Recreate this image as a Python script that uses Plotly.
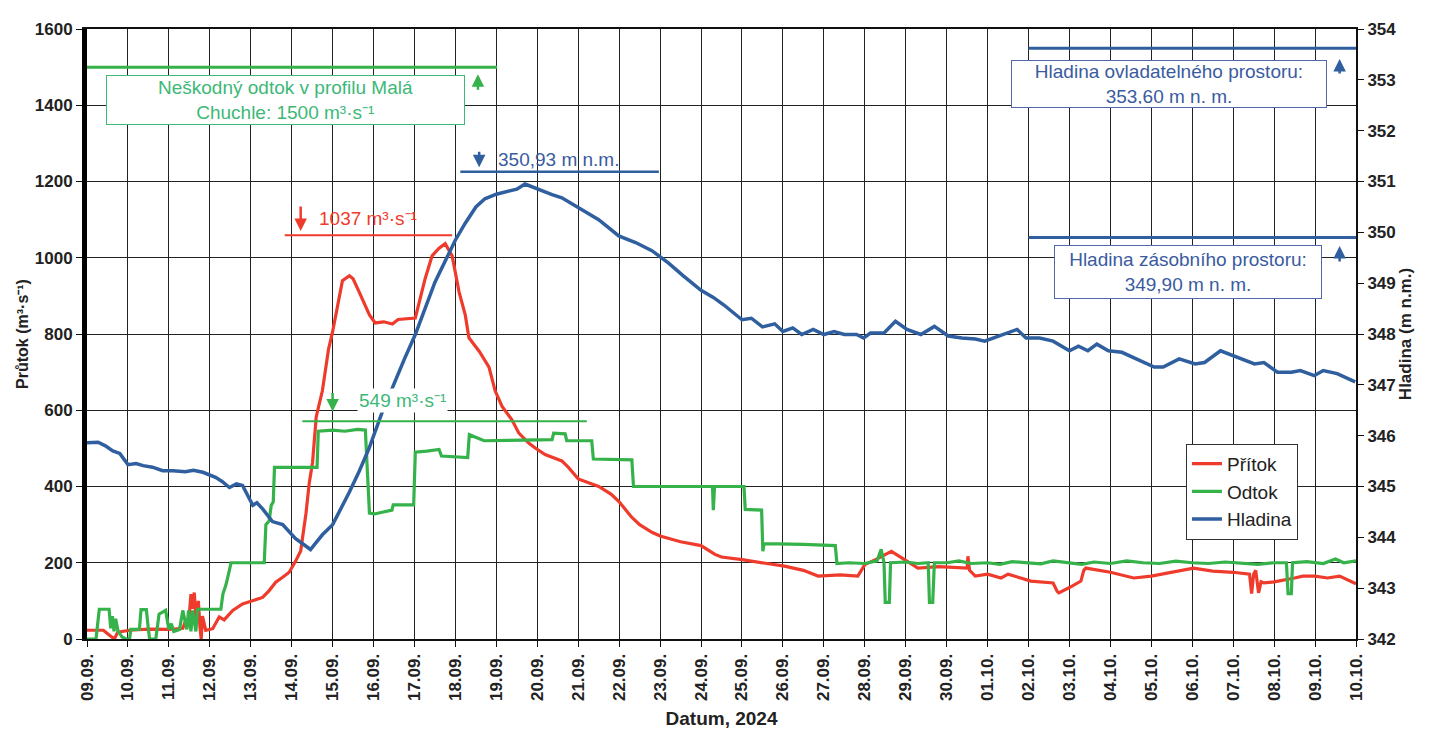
import plotly.graph_objects as go

# ---- data (x = days after 09.09.2024) ----
tick_labels = ["09.09.", "10.09.", "11.09.", "12.09.", "13.09.", "14.09.", "15.09.", "16.09.",
               "17.09.", "18.09.", "19.09.", "20.09.", "21.09.", "22.09.", "23.09.", "24.09.",
               "25.09.", "26.09.", "27.09.", "28.09.", "29.09.", "30.09.", "01.10.", "02.10.",
               "03.10.", "04.10.", "05.10.", "06.10.", "07.10.", "08.10.", "09.10.", "10.10."]

pritok_x = [0, 0.4, 0.55, 0.67, 0.75, 1.04, 1.5, 2.0, 2.34, 2.4, 2.48, 2.54, 2.58, 2.62, 2.66, 2.72,
            2.76, 2.79, 2.82, 2.9, 3.07, 3.23, 3.35, 3.56, 3.8, 4.05, 4.29, 4.45, 4.61, 4.78, 4.94,
            5.1, 5.22, 5.35, 5.43, 5.51, 5.6, 5.75, 5.9, 6.0, 6.12, 6.24, 6.41, 6.5, 6.65, 6.9, 7.04,
            7.25, 7.46, 7.6, 8.02, 8.15, 8.26, 8.43, 8.6, 8.75, 8.92, 9.09, 9.24, 9.33, 9.58, 9.82,
            9.97, 10.14, 10.38, 10.55, 10.79, 10.95, 11.19, 11.6, 11.76, 12.0, 12.5, 12.8, 13.0,
            13.3, 13.5, 13.8, 14.0, 14.5, 15.0, 15.34, 15.5, 16.0, 16.5, 17.04, 17.5, 17.86, 18.4,
            18.83, 19.0, 19.3, 19.65, 20.0, 20.3, 20.8, 21.5, 21.52, 21.56, 21.7, 22.0, 22.33, 22.5,
            23.06, 23.6, 23.7, 23.74, 24.0, 24.28, 24.35, 24.4, 25.0, 25.57, 26.0, 26.5, 27.03,
            27.5, 28.0, 28.4, 28.45, 28.5, 28.55, 28.62, 28.68, 28.75, 29.0, 29.5, 29.7, 30.0,
            30.3, 30.6, 31.0]
pritok_y = [23, 23, 10, 0, 18, 23, 26, 25, 28, 45, 40, 118, 79, 122, 58, 100,
            30, 0, 60, 23, 27, 58, 50, 75, 92, 101, 109, 127, 149, 162, 175,
            205, 231, 330, 410, 463, 583, 651, 760, 806, 870, 940, 953, 945, 910, 850, 829,
            832, 826, 838, 842, 900, 945, 1005, 1025, 1037, 1005, 910, 850, 790, 755, 713,
            651, 610, 575, 540, 514, 501, 484, 467, 450, 420, 400, 380, 360,
            320, 300, 280, 270, 255, 245, 222, 215, 208, 200, 191, 180, 165, 168,
            165, 195, 210, 230, 205, 186, 190, 186, 217, 180, 165, 170, 160, 170,
            152, 147, 125, 121, 135, 152, 180, 186, 175, 160, 165, 175, 186,
            178, 175, 170, 119, 170, 180, 121, 150, 147, 150, 160, 165, 165,
            160, 165, 145]

odtok_x = [0, 0.22, 0.3, 0.54, 0.58, 0.62, 0.66, 0.7, 0.76, 0.86, 0.96, 1.04, 1.07, 1.28, 1.32,
           1.45, 1.5, 1.53, 1.68, 1.76, 1.92, 2.0, 2.06, 2.12, 2.26, 2.34, 2.44, 2.48, 2.54, 2.58,
           2.66, 2.7, 3.27, 3.32, 3.4, 3.46, 3.52, 4.33, 4.37, 4.45, 4.5, 4.55, 4.58, 5.62, 5.65,
           6.0, 6.3, 6.6, 6.8, 6.9, 7.02, 7.45, 7.48, 7.98, 8.02, 8.3, 8.6, 8.66, 9.3, 9.34, 9.7,
           11.36, 11.4, 11.68, 11.72, 12.33, 12.37, 13.31, 13.35, 15.28, 15.3, 15.33, 16.05,
           16.08, 16.48, 16.51, 16.54, 17.5, 18.28, 18.32, 18.6, 19.0, 19.3, 19.4, 19.47, 19.5,
           19.6, 19.63, 20.0, 20.3, 20.55, 20.58, 20.66, 20.7, 21.0, 21.3, 21.6, 22.0, 22.3,
           22.6, 23.0, 23.3, 23.6, 24.0, 24.3, 24.6, 25.0, 25.4, 25.8, 26.2, 26.6, 27.0, 27.4,
           27.8, 28.2, 28.6, 29.0, 29.3, 29.34, 29.42, 29.45, 29.8, 30.2, 30.5, 30.7, 31.0]
odtok_y = [0, 0, 78, 78, 28, 60, 20, 53, 20, 5, 0, 0, 25, 25, 77,
           77, 25, 0, 0, 65, 75, 25, 40, 20, 25, 75, 25, 75, 20, 75,
           20, 78, 78, 118, 144, 170, 200, 200, 300, 310, 350, 360, 450, 450, 545,
           548, 545, 550, 548, 330, 328, 338, 352, 352, 490, 493, 497, 480, 476, 536, 520,
           523, 540, 538, 520, 520, 472, 470, 400, 400, 338, 400, 400,
           340, 338, 230, 250, 248, 245, 198, 200, 198, 205, 235, 200, 96,
           96, 200, 202, 198, 200, 96, 96, 200, 200, 205, 198, 200, 196,
           203, 200, 197, 205, 200, 196, 202, 198, 205, 200, 198, 204, 200, 198,
           202, 200, 196, 200, 200, 119, 119, 200, 203, 198, 210, 200, 205]

hladina_x = [0, 0.27, 0.45, 0.63, 0.8, 1.0, 1.2, 1.37, 1.6, 1.85, 2.1, 2.4, 2.6, 2.83, 3.14, 3.3,
             3.48, 3.65, 3.8, 4.05, 4.15, 4.29, 4.53, 4.78, 5.09, 5.3, 5.46, 5.6, 5.75, 6.0, 6.2,
             6.41, 6.65, 6.89, 7.2, 7.46, 7.75, 8.02, 8.5, 9.0, 9.24, 9.5, 9.72, 10.0, 10.3, 10.5,
             10.7, 11.0, 11.36, 11.6, 12.16, 12.5, 12.99, 13.4, 13.8, 14.2, 14.56, 15.0, 15.3,
             15.56, 16.0, 16.23, 16.5, 16.8, 17.0, 17.24, 17.46, 17.74, 18.0, 18.25, 18.5, 18.8,
             18.97, 19.14, 19.47, 19.75, 20.03, 20.37, 20.7, 21.04, 21.37, 21.7, 21.93, 22.27,
             22.72, 22.94, 23.27, 23.6, 24.0, 24.22, 24.45, 24.67, 24.95, 25.28, 25.62, 26.07,
             26.29, 26.68, 27.07, 27.3, 27.69, 28.08, 28.52, 28.75, 29.08, 29.42, 29.64, 29.98,
             30.2, 30.54, 30.98]
hladina_y = [345.86, 345.87, 345.8, 345.7, 345.65, 345.43, 345.45, 345.41, 345.38, 345.31, 345.31,
             345.29, 345.32, 345.28, 345.18, 345.1, 344.98, 345.05, 345.02, 344.63, 344.68, 344.56,
             344.31, 344.25, 343.98, 343.85, 343.76, 343.9, 344.05, 344.25, 344.55, 344.89, 345.3,
             345.75, 346.44, 346.96, 347.5, 347.99, 349.02, 349.85, 350.18, 350.5, 350.66, 350.75,
             350.82, 350.85, 350.95, 350.85, 350.74, 350.68, 350.41, 350.25, 349.93, 349.8, 349.64,
             349.4, 349.15, 348.86, 348.72, 348.57, 348.28, 348.31, 348.14, 348.2, 348.05, 348.12,
             347.99, 348.09, 347.99, 348.05, 347.99, 347.99, 347.92, 348.02, 348.02, 348.25, 348.09,
             347.99, 348.15, 347.96, 347.92, 347.9, 347.86, 347.96, 348.09, 347.92, 347.92, 347.86,
             347.67, 347.76, 347.67, 347.8, 347.67, 347.64, 347.51, 347.35, 347.35, 347.51, 347.41,
             347.44, 347.67, 347.54, 347.41, 347.44, 347.25, 347.25, 347.28, 347.18, 347.28,
             347.22, 347.06]

RED = "#EF3B2C"
GREEN = "#35B24A"
BLUE = "#2F5F9E"
GTXT = "#3DB877"
BTXT = "#3A5BA0"
FONT = "Liberation Sans, Arial, sans-serif"

fig = go.Figure()
fig.add_trace(go.Scatter(x=pritok_x, y=pritok_y, mode="lines", name="Přítok",
                         line=dict(color=RED, width=3.2)))
fig.add_trace(go.Scatter(x=odtok_x, y=odtok_y, mode="lines", name="Odtok",
                         line=dict(color=GREEN, width=3.2)))
fig.add_trace(go.Scatter(x=hladina_x, y=hladina_y, mode="lines", name="Hladina", yaxis="y2",
                         line=dict(color=BLUE, width=3.5)))

# reference lines
fig.add_shape(type="line", xref="x", yref="y", x0=0, x1=10.02, y0=1500, y1=1500,
              line=dict(color=GREEN, width=3))
fig.add_shape(type="line", xref="x", yref="y", x0=4.83, x1=8.92, y0=1059, y1=1059,
              line=dict(color=RED, width=2))
fig.add_shape(type="line", xref="x", yref="y", x0=5.26, x1=12.21, y0=571, y1=571,
              line=dict(color=GREEN, width=2))
fig.add_shape(type="line", xref="x", yref="y2", x0=9.12, x1=13.97, y0=351.19, y1=351.19,
              line=dict(color=BLUE, width=2.5))
fig.add_shape(type="line", xref="x", yref="y2", x0=23.0, x1=31, y0=353.62, y1=353.62,
              line=dict(color=BLUE, width=3))
fig.add_shape(type="line", xref="x", yref="y2", x0=23.0, x1=31, y0=349.9, y1=349.9,
              line=dict(color=BLUE, width=3))

def ann(x, y, text, color, size=19, yref="y", **kw):
    fig.add_annotation(x=x, y=y, xref="x", yref=yref, text=text, showarrow=False,
                       font=dict(family=FONT, size=size, color=color), **kw)

def arrow(x, y, color, ay, yref="y"):
    fig.add_annotation(x=x, y=y, xref="x", yref=yref, text="", showarrow=True,
                       ax=0, ay=ay, arrowhead=2, arrowsize=1, arrowwidth=2.5, arrowcolor=color)

ann(4.85, 1413, "Neškodný odtok v profilu Malá<br>Chuchle: 1500 m³·s⁻¹", GTXT,
    bgcolor="white", bordercolor=GTXT, borderwidth=1, borderpad=3, width=351, height=42)
arrow(9.55, 1481, GREEN, 17)
ann(26.42, 352.91, "Hladina ovladatelného prostoru:<br>353,60 m n. m.", BTXT, yref="y2",
    bgcolor="white", bordercolor="#5468AC", borderwidth=1, borderpad=3, width=308, height=40)
arrow(30.6, 353.41, BLUE, 16, yref="y2")
ann(26.9, 349.21, "Hladina zásobního prostoru:<br>349,90 m n. m.", BTXT, yref="y2",
    bgcolor="white", bordercolor="#5468AC", borderwidth=1, borderpad=3, width=260, height=46)
arrow(30.6, 349.73, BLUE, 17, yref="y2")
arrow(5.22, 1070, RED, -26)
ann(6.87, 1103, "1037 m³·s⁻¹", RED)
arrow(9.58, 351.28, BLUE, -17, yref="y2")
ann(11.53, 351.44, "350,93 m n.m.", BTXT, yref="y2")
arrow(6.0, 597, GREEN, -20)
ann(7.70, 625, "549 m³·s⁻¹", GTXT, bgcolor="white")

fig.update_layout(
    width=1438, height=731,
    margin=dict(l=76, r=90, t=12, b=100),
    paper_bgcolor="white", plot_bgcolor="white",
    font=dict(family=FONT, color="#222"),
    showlegend=True,
    legend=dict(x=0.866, y=0.32, xanchor="left", yanchor="top",
                bgcolor="white", bordercolor="#333", borderwidth=1,
                font=dict(family=FONT, size=19, color="#222"), tracegroupgap=2),
    xaxis=dict(range=[0, 31], tickmode="array", tickvals=list(range(32)), ticktext=tick_labels,
               tickangle=-90, tickfont=dict(family=FONT, size=17, color="#222", weight="bold"),
               showgrid=True, gridcolor="#222", gridwidth=1,
               showline=True, linecolor="#111", linewidth=2, mirror=True,
               ticks="outside", ticklen=6, tickcolor="#111", zeroline=False,
               title=dict(text="Datum, 2024", font=dict(family=FONT, size=19, color="#222", weight="bold"),
                          standoff=12)),
    yaxis=dict(range=[0, 1600], dtick=200, showgrid=True, gridcolor="#222", gridwidth=1,
               showline=True, linecolor="#000", linewidth=5, ticks="outside", ticklen=6,
               tickcolor="#111", zeroline=False,
               tickfont=dict(family=FONT, size=17, color="#222", weight="bold"),
               title=dict(text="Průtok (m³·s⁻¹)", font=dict(family=FONT, size=16, color="#222", weight="bold"),
                          standoff=4)),
    yaxis2=dict(range=[342, 354], dtick=1, overlaying="y", side="right", showgrid=False,
                showline=True, linecolor="#111", linewidth=2, ticks="outside", ticklen=6,
                tickcolor="#111", zeroline=False,
                tickfont=dict(family=FONT, size=17, color="#222", weight="bold"),
                title=dict(text="Hladina (m n.m.)", font=dict(family=FONT, size=17, color="#222", weight="bold"),
                           standoff=4)),
)

fig.write_html("out.html")
